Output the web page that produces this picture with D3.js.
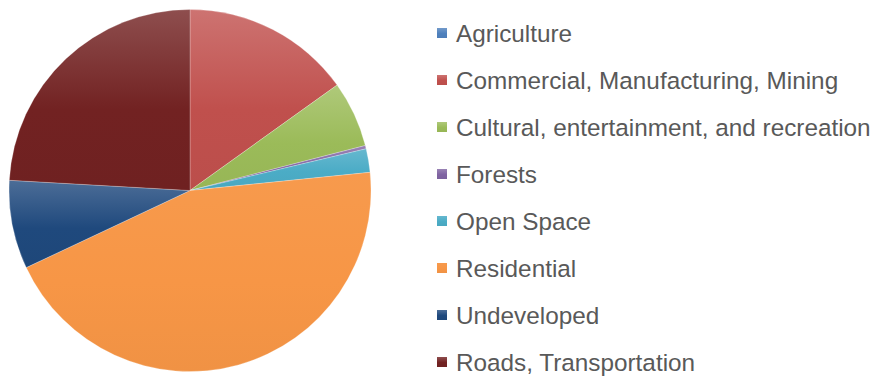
<!DOCTYPE html>
<html>
<head>
<meta charset="utf-8">
<script src="https://cdn.jsdelivr.net/npm/d3@7"></script>
<style>
  html, body { margin: 0; padding: 0; background: #fff; }
  svg { display: block; }
  .legend text { font-family: "Liberation Sans", Arial, Helvetica, sans-serif; font-size: 24.3px; fill: #595959; }
</style>
</head>
<body>
<svg id="chart" width="872" height="376"></svg>
<script>
// Land use shares (percent of total area)
const categories = [
  "Agriculture",
  "Commercial, Manufacturing, Mining",
  "Cultural, entertainment, and recreation",
  "Forests",
  "Open Space",
  "Residential",
  "Undeveloped",
  "Roads, Transportation"
];
const shares = [0, 15.1, 5.9, 0.3, 2.1, 44.6, 7.9, 24.1];
const colors = ["#4f81bd", "#c0504d", "#9bbb59", "#8064a2", "#4bacc6", "#f79646", "#1f497d", "#722222"];
// How much each slice brightens toward its top edge
const sheen = [0.2, 0.2, 0.2, 0.2, 0.15, 0.04, 0.2, 0.2];

const cx = 190, cy = 190.5, radius = 181;

const svg = d3.select("#chart");
const defs = svg.append("defs");

const data = categories.map((c, i) => ({ name: c, value: shares[i], color: colors[i], i }));

// Soft vertical gradient per slice: lighter at the top, base colour below.
data.forEach(d => {
  const g = defs.append("linearGradient")
    .attr("id", "grad" + d.i)
    .attr("x1", 0).attr("y1", 0).attr("x2", 0).attr("y2", 1);
  const base = d3.color(d.color);
  const light = d3.interpolateRgb(base, "#ffffff")(sheen[d.i]);
  g.append("stop").attr("offset", 0).attr("stop-color", light);
  g.append("stop").attr("offset", 0.55).attr("stop-color", base.formatHex());
  g.append("stop").attr("offset", 1).attr("stop-color", base.darker(0.08).formatHex());
});

const pie = d3.pie().value(d => d.value).sort(null);
const arc = d3.arc().innerRadius(0).outerRadius(radius);

const pieG = svg.append("g").attr("transform", `translate(${cx},${cy})`);
pieG.selectAll("path")
  .data(pie(data))
  .join("path")
  .attr("d", arc)
  .attr("fill", d => `url(#grad${d.data.i})`)
  .attr("stroke", "rgba(255,255,255,0.3)")
  .attr("stroke-width", 0.8)
  .attr("stroke-linejoin", "round");

// Legend
const legendX = 437, legendY0 = 33, legendStep = 47, sw = 10;
const legend = svg.append("g").attr("class", "legend");
const rows = legend.selectAll("g")
  .data(data)
  .join("g")
  .attr("transform", (d, i) => `translate(${legendX},${legendY0 + i * legendStep})`);
rows.append("rect")
  .attr("x", 0).attr("y", -sw / 2)
  .attr("width", sw).attr("height", sw)
  .attr("fill", d => `url(#grad${d.i})`);
rows.append("text")
  .attr("x", 19)
  .attr("y", 8.5)
  .text(d => d.name);
</script>
</body>
</html>
